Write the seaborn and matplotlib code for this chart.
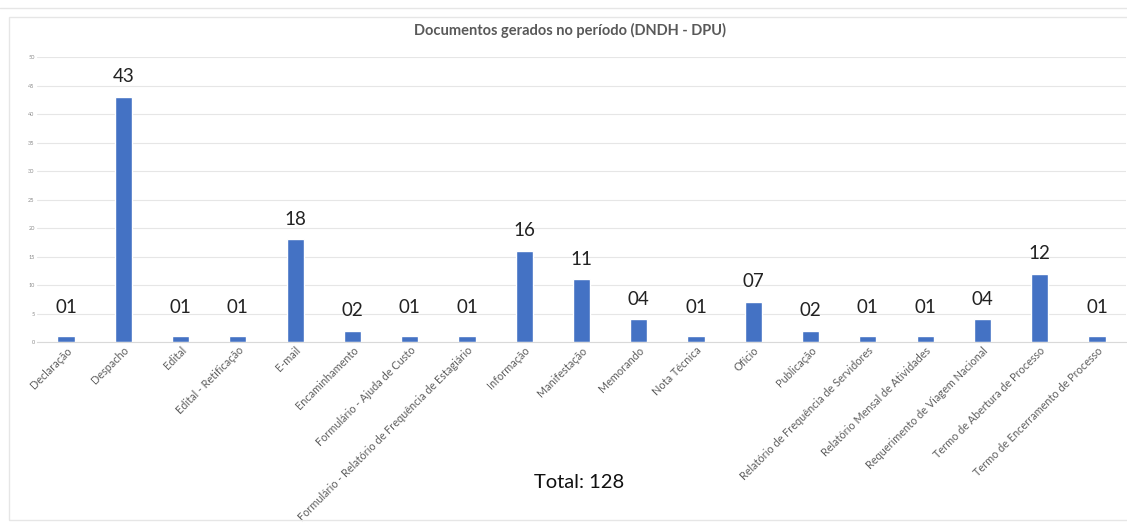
import matplotlib
matplotlib.use("Agg")
import matplotlib.pyplot as plt
import seaborn as sns
import pandas as pd
from matplotlib.patches import Rectangle

categories = ["Declaração", "Despacho", "Edital", "Edital - Retificação", "E-mail",
              "Encaminhamento", "Formulário - Ajuda de Custo",
              "Formulário - Relatório de Frequência de Estagiário", "Informação",
              "Manifestação", "Memorando", "Nota Técnica", "Ofício", "Publicação",
              "Relatório de Frequência de Servidores", "Relatório Mensal de Atividades",
              "Requerimento de Viagem Nacional", "Termo de Abertura de Processo",
              "Termo de Encerramento de Processo"]
values = [1, 43, 1, 1, 18, 2, 1, 1, 16, 11, 4, 1, 7, 2, 1, 1, 4, 12, 1]
value_labels = ["01", "43", "01", "01", "18", "02", "01", "01", "16", "11", "04",
                "01", "07", "02", "01", "01", "04", "12", "01"]
y_ticks = [0, 5, 10, 15, 20, 25, 30, 35, 40, 45, 50]
title = "Documentos gerados no período (DNDH - DPU)"
total_text = "Total: 128"

sns.set_theme(style="white")
plt.rcParams['font.family'] = ['Lato', 'DejaVu Sans']

df = pd.DataFrame({"cat": categories, "val": values})

fig = plt.figure(figsize=(11.27, 5.23), dpi=100)
ax = fig.add_axes([0.0332, 0.346, 0.9656, 0.545])

sns.barplot(data=df, x="cat", y="val", color="#4472C4", width=0.30, ax=ax,
            saturation=1)

for i, (v, lab) in enumerate(zip(values, value_labels)):
    off = 21 if v <= 1 else 14.5
    ax.annotate(lab, (i, v), xytext=(0, off), textcoords="offset points",
                ha="center", va="center", fontsize=13.5, color="#222222")

ax.set_ylim(0, 50)
ax.set_xlim(-0.5, len(categories) - 0.5)
ax.set_yticks(y_ticks)
ax.set_yticklabels([str(t) for t in y_ticks], fontsize=4, color="#8c8c8c")
ax.set_xticks(range(len(categories)))
ax.set_xticklabels(categories, rotation=45, ha="right", rotation_mode="anchor",
                   fontsize=7.8, color="#5f5f5f")
ax.tick_params(axis="both", length=0, pad=2)
ax.set_xlabel("")
ax.set_ylabel("")
ax.yaxis.grid(True, color="#e6e6e6", linewidth=0.8)
ax.set_axisbelow(True)
for s in ["top", "right", "left"]:
    ax.spines[s].set_visible(False)
ax.spines["bottom"].set_color("#d9d9d9")
ax.spines["bottom"].set_linewidth(0.8)

fig.text(0.506, 0.942, title, ha="center", va="center", fontsize=10.5,
         fontweight="bold", color="#595959")
fig.text(0.514, 0.078, total_text, ha="center", va="center", fontsize=14.5,
         color="#111111")

# outer frames
fig.patches.append(Rectangle((0.008, 0.005), 1.0, 0.963, transform=fig.transFigure,
                             fill=False, edgecolor="#e6e6e6", linewidth=1.0))
fig.lines.append(plt.Line2D([0.0, 1.0], [0.985, 0.985], transform=fig.transFigure,
                            color="#e6e6e6", linewidth=1.0))

fig.savefig("out.png", dpi=100, facecolor="white")
